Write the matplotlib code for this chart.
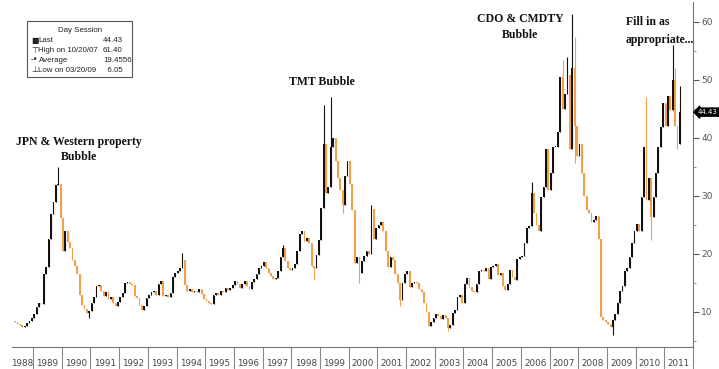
import numpy as np
import pandas as pd
import matplotlib
matplotlib.use("Agg")
import matplotlib.pyplot as plt
from matplotlib.patches import Rectangle
from matplotlib.transforms import blended_transform_factory

# monthly candles, open = previous close
first_month = "1988-05"
first_open = 8.4
closes = [
    8.2, 8.0, 7.7, 7.5, 7.6, 8.1, 8.5, 8.9,                                  # 1988 May-Dec
    9.6, 10.8, 11.5, 11.3, 16.5, 17.8, 22.5, 26.8, 29.0, 31.8, 32.0, 26.2,    # 1989
    20.5, 24.0, 22.0, 21.0, 19.0, 18.0, 16.5, 13.0, 11.2, 10.5, 9.8, 10.2,    # 1990
    11.5, 12.6, 14.5, 14.6, 13.6, 12.8, 13.4, 12.2, 12.6, 11.5, 11.0, 11.8,   # 1991
    12.5, 13.2, 15.0, 15.2, 14.8, 14.6, 12.8, 12.4, 11.2, 10.3, 11.0, 12.4,   # 1992
    13.0, 13.4, 13.6, 13.0, 14.8, 15.3, 12.8, 13.0, 12.6, 13.2, 16.0, 16.8,   # 1993
    17.0, 17.6, 19.0, 14.6, 13.6, 13.9, 13.4, 13.6, 13.5, 13.9, 13.1, 12.3,   # 1994
    11.9, 11.6, 11.4, 12.9, 13.2, 13.0, 13.6, 13.5, 14.1, 13.8, 14.2, 14.6,   # 1995
    15.4, 14.8, 14.2, 14.9, 15.3, 14.5, 14.0, 15.2, 15.6, 16.6, 17.5, 18.0,   # 1996
    18.6, 17.6, 16.8, 16.2, 15.6, 15.8, 17.0, 19.5, 21.0, 18.8, 17.5, 17.2,   # 1997
    17.6, 18.2, 20.5, 23.5, 24.0, 22.2, 22.8, 21.8, 18.0, 17.6, 19.8, 22.4,   # 1998
    28.0, 39.0, 30.5, 31.5, 38.5, 40.0, 36.0, 33.0, 31.0, 28.5, 33.5, 36.0,   # 1999
    32.0, 27.5, 18.5, 19.5, 16.8, 18.8, 19.6, 20.5, 20.0, 27.8, 22.5, 24.5,   # 2000
    25.0, 25.5, 24.0, 20.5, 17.8, 19.5, 19.0, 16.5, 15.0, 12.0, 15.0, 16.6,   # 2001
    17.0, 14.3, 15.0, 15.2, 15.0, 14.0, 13.5, 11.6, 10.0, 7.6, 8.3, 9.0,      # 2002
    9.6, 9.3, 8.8, 9.4, 9.0, 7.2, 7.8, 9.8, 10.4, 12.6, 13.0, 11.6,           # 2003
    14.8, 15.8, 14.3, 13.6, 13.4, 14.9, 17.0, 17.3, 17.0, 17.6, 15.6, 17.8,   # 2004
    18.0, 18.3, 16.4, 16.8, 14.4, 13.8, 14.8, 17.2, 16.0, 15.5, 19.2, 19.5,   # 2005
    19.6, 21.8, 24.5, 24.8, 30.5, 27.0, 25.0, 24.0, 29.8, 31.5, 38.0, 31.0,   # 2006
    34.0, 38.5, 38.5, 41.0, 50.5, 45.0, 47.5, 50.8, 38.0, 52.0, 42.0, 36.8,   # 2007
    39.0, 34.0, 30.0, 27.5, 27.0, 25.5, 25.8, 26.5, 22.5, 9.2, 8.7, 8.2,      # 2008
    7.9, 7.4, 8.6, 9.7, 11.5, 13.6, 14.5, 17.0, 17.6, 19.5, 21.8, 24.0,       # 2009
    25.2, 24.0, 29.8, 38.4, 29.3, 33.0, 26.4, 29.8, 33.9, 38.4, 41.9, 46.0,   # 2010
    42.0, 47.2, 44.8, 50.0, 42.0, 39.0, 44.43,                                # 2011
]
highs = {"1989-11": 35.0, "1994-03": 20.2, "1997-09": 21.5, "1999-02": 45.7,
         "1999-05": 47.0, "2000-10": 28.5, "2006-05": 32.4, "2007-06": 53.4,
         "2007-08": 54.0, "2007-10": 61.40, "2007-11": 57.4, "2010-05": 47.0,
         "2011-04": 56.0, "2011-05": 52.0, "2011-07": 49.0}
lows = {"1990-12": 9.0, "1998-10": 15.5, "1999-10": 27.0, "2000-05": 15.0,
        "2001-10": 11.0, "2003-06": 6.7, "2007-11": 35.7, "2009-03": 6.05,
        "2010-07": 22.4, "2011-06": 38.0}
years = list(range(1988, 2012))
y_major = [10, 20, 30, 40, 50, 60]
y_minor = [5, 15, 25, 35, 45, 55]

W, H = 719, 369
def fx(px): return px / W
def fy(py): return 1 - py / H

months = pd.period_range(first_month, periods=len(closes), freq="M")
pos = np.array([(m.year - 1988) * 12 + m.month - 1 for m in months]) + 0.5
c = np.array(closes)
o = np.concatenate([[first_open], c[:-1]])
hi = np.maximum(o, c)
lo = np.minimum(o, c)
for k, v in highs.items():
    hi[months.get_loc(pd.Period(k, "M"))] = v
for k, v in lows.items():
    lo[months.get_loc(pd.Period(k, "M"))] = v
up = c >= o
black, orange = "#111111", "#f2a04c"
cols = np.where(up, black, orange)

fig = plt.figure(figsize=(W / 100, H / 100), dpi=100)
ax = fig.add_axes([fx(12), 22 / H, fx(693) - fx(12), (347 - 2) / H])

ax.vlines(pos, lo, hi, colors=cols, linewidth=0.8)
ax.bar(pos, np.maximum(np.abs(c - o), 0.15), bottom=np.minimum(o, c),
       width=0.72, color=cols, linewidth=0)

ax.set_xlim(3.2, 288)
ax.set_ylim(3.97, 63.4)

for s in ["left", "top"]:
    ax.spines[s].set_visible(False)
for s in ["right", "bottom"]:
    ax.spines[s].set_color("#777777")
    ax.spines[s].set_linewidth(0.8)

# y axis on the right
ax.yaxis.tick_right()
ax.set_yticks(y_major)
ax.set_yticks(y_minor, minor=True)
ax.tick_params(axis="y", which="major", length=4, width=0.8, color="#555555",
               labelsize=6.5, labelcolor="#555555", pad=2)
ax.tick_params(axis="y", which="minor", length=2, width=0.6, color="#777777")

# year separators and labels
centers = [(3.2 + 12) / 2] + [(y - 1988) * 12 + 6 for y in years[1:]]
ax.set_xticks(centers)
ax.set_xticklabels([str(y) for y in years])
ax.set_xticks([(y - 1988) * 12 for y in years[1:]] + [288], minor=True)
ax.tick_params(axis="x", which="major", length=0, labelsize=6.3,
               labelcolor="#444444", pad=9)
ax.tick_params(axis="x", which="minor", length=17, width=0.8, color="#888888")

# last price marker at the right edge
tr = blended_transform_factory(ax.transAxes, ax.transData)
ax.text(1.0075, 44.43, "44.43", transform=tr, ha="left", va="center",
        fontsize=5.0, color="white", clip_on=False,
        bbox=dict(boxstyle="larrow,pad=0.15", fc="black", ec="black"))

# info box
fig.patches.append(Rectangle((fx(27), fy(77)), fx(132) - fx(27), fy(21) - fy(77),
                             transform=fig.transFigure, fc="white", ec="#555555",
                             lw=0.8, zorder=5))
tk = dict(fontsize=5.7, family="Liberation Sans", color="#222222",
          va="center", zorder=6)
fig.text(fx(80), fy(31), "Day Session", ha="center", **tk)
rows = [("\u25a0", "Last", "44.43"), ("\u22a4", "High on 10/20/07", "61.40"),
        ("-\u2022", "Average", "19.4556"), ("\u22a5", "Low on 03/20/09", "  6.05")]
for i, (sym, lab, val) in enumerate(rows):
    yy = fy(40 + 10 * i)
    fig.text(fx(31), yy, sym, ha="left", **dict(tk, family="DejaVu Sans"))
    fig.text(fx(38.5), yy, lab, ha="left", **tk)
    fig.text(fx(103), yy, val, ha="left", **tk)

# bubble annotations
ann = dict(fontsize=8.5, fontweight="bold", family="Liberation Serif",
           color="#111111", va="center")
fig.text(fx(79), fy(142), "JPN & Western property", ha="center", **ann)
fig.text(fx(79), fy(157), "Bubble", ha="center", **ann)
fig.text(fx(322), fy(82), "TMT Bubble", ha="center", **ann)
fig.text(fx(520), fy(19), "CDO & CMDTY", ha="center", **ann)
fig.text(fx(520), fy(35), "Bubble", ha="center", **ann)
fig.text(fx(626), fy(22), "Fill in as", ha="left", **ann)
fig.text(fx(626), fy(40), "appropriate...", ha="left", **ann)

fig.savefig("out.png", dpi=100)
